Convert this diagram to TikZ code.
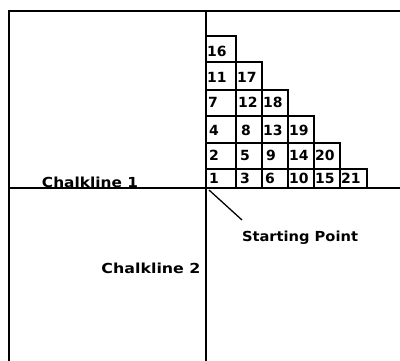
\documentclass[tikz,border=0pt]{standalone}
\usepackage{fontspec}
\setmainfont{DejaVu Sans}
\begin{document}
\begin{tikzpicture}[x=1pt,y=-1pt,
  frameline/.style={line width=1.8pt,line cap=rect},
  cellbox/.style={line width=1.7pt},
  num/.style={anchor=west,inner sep=0pt,font=\bfseries\fontsize{14}{14}\selectfont},
  lbl/.style={inner sep=0pt,font=\bfseries\fontsize{11}{11}\selectfont}]
\useasboundingbox (0,0) rectangle (400,360);
% frame and chalk lines
\draw[frameline] (9,360) -- (9,11) -- (400,11);
\draw[frameline] (206,11) -- (206,360);
\draw[frameline] (9,188) -- (400,188);
% grid cells
\def\colx{{206,236,262,288,314,340,367}}
\def\rowy{{188,169,143,116,90,62,36}}
\foreach \r in {0,...,5}{
  \pgfmathtruncatemacro{\last}{5-\r}
  \foreach \c in {0,...,\last}{
    \pgfmathsetmacro{\xa}{\colx[\c]}
    \pgfmathsetmacro{\xb}{\colx[\c+1]}
    \pgfmathsetmacro{\ya}{\rowy[\r]}
    \pgfmathsetmacro{\yb}{\rowy[\r+1]}
    \draw[cellbox] (\xa,\ya) rectangle (\xb,\yb);
  }
}
% numbers
\node[num] (n1)  at (209,178) {1};
\node[num] (n3)  at (240,178) {3};
\node[num] (n6)  at (265,178) {6};
\node[num] (n10) at (289,178) {10};
\node[num] (n15) at (315,178) {15};
\node[num] (n21) at (341,178) {21};
\node[num] (n2)  at (209,155) {2};
\node[num] (n5)  at (240,155) {5};
\node[num] (n9)  at (266,155) {9};
\node[num] (n14) at (289,155) {14};
\node[num] (n20) at (315,155) {20};
\node[num] (n4)  at (209,130) {4};
\node[num] (n8)  at (241,130) {8};
\node[num] (n13) at (263,130) {13};
\node[num] (n19) at (289,130) {19};
\node[num] (n7)  at (208,102) {7};
\node[num] (n12) at (238,102) {12};
\node[num] (n18) at (263,102) {18};
\node[num] (n11) at (207,77) {11};
\node[num] (n17) at (237,77) {17};
\node[num] (n16) at (207,51) {16};
% labels
\node[lbl] (c1) at (90,182) {\resizebox{96pt}{10.5pt}{Chalkline 1}};
\node[lbl] (c2) at (151,268) {\resizebox{99pt}{10.5pt}{Chalkline 2}};
\node[lbl] (sp) at (300,238) {\resizebox{116pt}{10.5pt}{Starting Point}};
\coordinate (origin) at (209,190);
\coordinate (tip) at (242,220);
\draw[line width=1.3pt] (origin) -- (tip);
\end{tikzpicture}
\end{document}
